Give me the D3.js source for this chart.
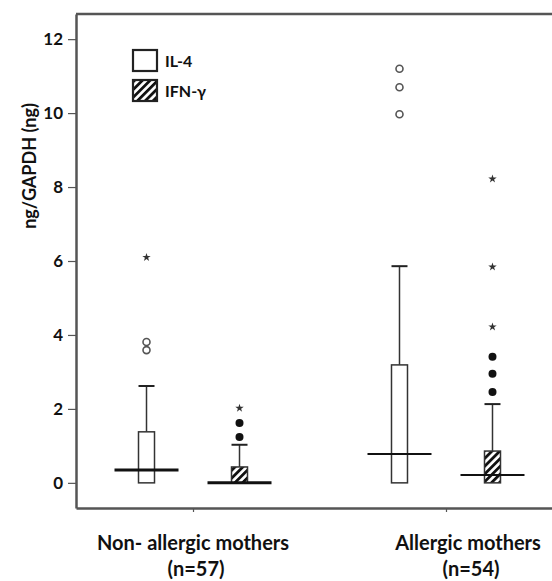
<!DOCTYPE html>
<html>
<head>
<meta charset="utf-8">
<script src="https://cdn.jsdelivr.net/npm/d3@7"></script>
<style>
  body { margin: 0; background: #fff; }
  text { font-family: Lato, "Open Sans", sans-serif; font-weight: bold; fill: #111; }
</style>
</head>
<body>
<svg id="svg" width="552" height="581"></svg>
<script>
// data
var groups = ["Non- allergic mothers", "Allergic mothers"];
var groupN = [57, 54];
var series = ["IL-4", "IFN-γ"];

// box stats, order: [group][series]
var boxMin    = [[0, 0], [0, 0]];
var boxQ1     = [[0, 0], [0, 0]];
var boxMedian = [[0.35, 0], [0.78, 0.21]];
var boxQ3     = [[1.38, 0.43], [3.19, 0.86]];
var boxMax    = [[2.62, 1.03], [5.86, 2.13]];

// outliers: open circles, filled dots, extremes (stars)
var openOutliers   = [[[3.59, 3.81], []], [[9.97, 10.7, 11.2], []]];
var filledOutliers = [[[], [1.24, 1.62]], [[], [2.46, 2.95, 3.41]]];
var extremes       = [[[6.1], [2.02]], [[], [4.22, 5.84, 8.22]]];

var yTicks = [0, 2, 4, 6, 8, 10, 12];

var svg = d3.select("#svg"),
    margin = {left: 76, top: 14, bottom: 73},
    wsvg = +svg.attr("width"),
    hsvg = +svg.attr("height");

var boxW = 16,        // width of a box
    medW = 64,        // the median bar is wider than the box
    seriesOff = 46.5; // distance of box from group center

var y = d3.scaleLinear().domain([-0.68, 12.68]).range([hsvg - margin.bottom, margin.top]);
var x = d3.scalePoint().domain(groups).range([margin.left, 563]).padding(0.4625);
var xs = d3.scalePoint().domain(series).range([-seriesOff, seriesOff]);

// hatch pattern for IFN-γ
var defs = svg.append("defs");
var pat = defs.append("pattern")
    .attr("id", "hatch")
    .attr("patternUnits", "userSpaceOnUse")
    .attr("width", 5.5).attr("height", 5.5)
    .attr("patternTransform", "rotate(45)");
pat.append("rect").attr("width", 5.5).attr("height", 5.5).attr("fill", "#fff");
pat.append("rect").attr("width", 2.8).attr("height", 5.5).attr("fill", "#111");

var fillFor = function(s){ return s === "IFN-γ" ? "url(#hatch)" : "#fff"; };

// frame: top line
svg.append("line")
    .attr("x1", margin.left).attr("x2", wsvg)
    .attr("y1", margin.top).attr("y2", margin.top)
    .style("stroke", "#555").style("stroke-width", 2.5);

// y axis
var yAxis = svg.append("g")
    .attr("transform", "translate(" + margin.left + ",0)")
    .call(d3.axisLeft(y).tickValues(yTicks).tickSize(8).tickSizeOuter(0).tickPadding(5));
yAxis.select(".domain").style("stroke", "#555").style("stroke-width", 2.5);
yAxis.selectAll(".tick line").style("stroke", "#555").style("stroke-width", 1.2);
yAxis.selectAll(".tick text").style("font-size", "17px").style("font-family", "Lato").style("font-weight", "bold").attr("fill", "#111");

// x axis
var xAxis = svg.append("g")
    .attr("transform", "translate(0," + (hsvg - margin.bottom) + ")")
    .call(d3.axisBottom(x).tickSize(4).tickSizeOuter(0).tickFormat(""));
xAxis.select(".domain").style("stroke", "#555").style("stroke-width", 2.5);
xAxis.selectAll(".tick line").style("stroke", "#555").style("stroke-width", 1.2);

// group labels
var labelDx = [0, 22];
var glab = svg.append("g").selectAll("text").data(groups).enter().append("text")
    .attr("x", (d, i) => x(d) + labelDx[i])
    .attr("y", 550)
    .attr("text-anchor", "middle")
    .style("font-size", "20px");
glab.append("tspan").text(d => d);
glab.append("tspan")
    .attr("x", (d, i) => x(d) + labelDx[i] + 3)
    .attr("dy", 26)
    .text((d, i) => "(n=" + groupN[i] + ")");

// y label
svg.append("text")
    .attr("transform", "translate(36," + y(8.57) + ") rotate(-90)")
    .attr("text-anchor", "middle")
    .style("font-size", "18px")
    .text("ng/GAPDH (ng)");

// build the list of boxes
var boxes = [];
groups.forEach(function(g, gi){
  series.forEach(function(s, si){
    boxes.push({
      g: g, s: s,
      cx: x(g) + xs(s),
      min: boxMin[gi][si], q1: boxQ1[gi][si], med: boxMedian[gi][si],
      q3: boxQ3[gi][si], max: boxMax[gi][si],
      open: openOutliers[gi][si], filled: filledOutliers[gi][si], ext: extremes[gi][si],
      thick: gi === 0
    });
  });
});

var bg = svg.append("g").selectAll("g").data(boxes).enter().append("g");

// whiskers
bg.append("line")
    .attr("x1", d => d.cx).attr("x2", d => d.cx)
    .attr("y1", d => y(d.q3)).attr("y2", d => y(d.max))
    .style("stroke", "#333").style("stroke-width", 1.5);
bg.append("line")
    .attr("x1", d => d.cx - boxW / 2).attr("x2", d => d.cx + boxW / 2)
    .attr("y1", d => y(d.max)).attr("y2", d => y(d.max))
    .style("stroke", "#222").style("stroke-width", 2);

// boxes
bg.append("rect")
    .attr("x", d => d.cx - boxW / 2)
    .attr("y", d => y(d.q3))
    .attr("width", boxW)
    .attr("height", d => y(d.q1) - y(d.q3))
    .attr("fill", d => fillFor(d.s))
    .style("stroke", "#333").style("stroke-width", 1.5);

// medians
bg.append("line")
    .attr("x1", d => d.cx - medW / 2).attr("x2", d => d.cx + medW / 2)
    .attr("y1", d => y(d.med)).attr("y2", d => y(d.med))
    .style("stroke", "#111").style("stroke-width", d => d.thick ? 3 : 2);

// open outliers
bg.selectAll(".open").data(d => d.open.map(v => [d.cx, v])).enter().append("circle")
    .attr("cx", d => d[0]).attr("cy", d => y(d[1])).attr("r", 3.5)
    .attr("fill", "none").style("stroke", "#555").style("stroke-width", 1.6);

// filled outliers
bg.selectAll(".filled").data(d => d.filled.map(v => [d.cx, v])).enter().append("circle")
    .attr("cx", d => d[0]).attr("cy", d => y(d[1])).attr("r", 4)
    .attr("fill", "#111");

// extremes as stars
var star = d3.symbol().type(d3.symbolStar).size(22);
bg.selectAll(".ext").data(d => d.ext.map(v => [d.cx, v])).enter().append("path")
    .attr("d", star)
    .attr("transform", d => "translate(" + d[0] + "," + y(d[1]) + ")")
    .attr("fill", "#333");

// legend
var legend = svg.append("g").attr("transform", "translate(133,50)");
var li = legend.selectAll("g").data(series).enter().append("g")
    .attr("transform", (d, i) => "translate(0," + i * 30 + ")");
li.append("rect")
    .attr("width", 24).attr("height", 21)
    .attr("fill", d => fillFor(d))
    .style("stroke", "#222").style("stroke-width", 2.2);
li.append("text")
    .attr("x", 32).attr("y", 17)
    .style("font-size", "16px")
    .text(d => d);
</script>
</body>
</html>
